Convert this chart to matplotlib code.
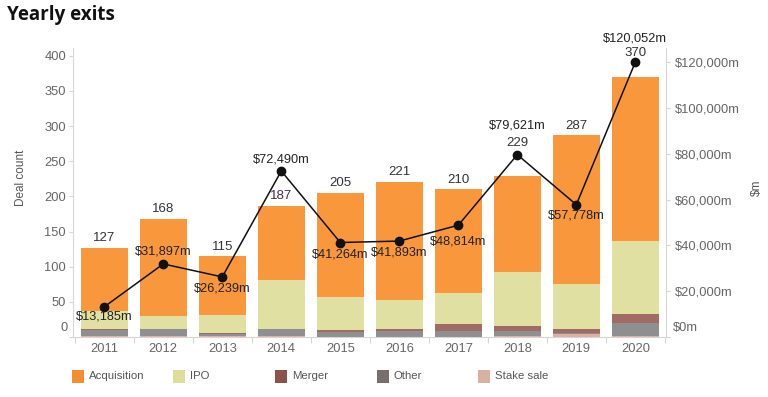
import matplotlib
matplotlib.use("Agg")
import matplotlib.pyplot as plt
from matplotlib.patches import Rectangle
import numpy as np

plt.rcParams['font.family'] = ['Liberation Sans', 'DejaVu Sans']

years = ['2011', '2012', '2013', '2014', '2015', '2016', '2017', '2018', '2019', '2020']
stake_sale = [2, 2, 1, 2, 0, 0, 0, 2, 4, 2]
other = [8, 9, 3, 9, 7, 8, 9, 6, 2, 18]
merger = [1, 1, 1, 1, 3, 4, 9, 7, 6, 13]
ipo = [26, 18, 26, 69, 47, 40, 45, 78, 64, 103]
acquisition = [90, 138, 84, 106, 148, 169, 147, 136, 211, 234]
deal_count = [127, 168, 115, 187, 205, 221, 210, 229, 287, 370]
value_m = [13185, 31897, 26239, 72490, 41264, 41893, 48814, 79621, 57778, 120052]
value_labels = ['$13,185m', '$31,897m', '$26,239m', '$72,490m', '$41,264m',
                '$41,893m', '$48,814m', '$79,621m', '$57,778m', '$120,052m']
left_ticks = [0, 50, 100, 150, 200, 250, 300, 350, 400]
right_ticks = [0, 20000, 40000, 60000, 80000, 100000, 120000]
right_tick_labels = ['$0m', '$20,000m', '$40,000m', '$60,000m', '$80,000m', '$100,000m', '$120,000m']
series_names = ['Acquisition', 'IPO', 'Merger', 'Other', 'Stake sale']

bar_colors = {'Acquisition': '#F9973D', 'IPO': '#E0E0A3', 'Merger': '#A06B64',
              'Other': '#8F8F8F', 'Stake sale': '#DDB0A0'}
legend_colors = {'Acquisition': '#F68E2F', 'IPO': '#DEDE98', 'Merger': '#8C5448',
                 'Other': '#786E6C', 'Stake sale': '#D9B1A0'}

W, H = 768, 397
fig = plt.figure(figsize=(W / 100, H / 100), dpi=100)
L, R, T, B = 73, 666, 48, 337
ax = fig.add_axes([L / W, (H - B) / H, (R - L) / W, (B - T) / H])
ax2 = ax.twinx()

x = np.arange(len(years))
grey = '#666666'
axis_col = '#D6D6D6'

bottom = np.zeros(len(years))
for name, vals in [('Stake sale', stake_sale), ('Other', other), ('Merger', merger),
                   ('IPO', ipo), ('Acquisition', acquisition)]:
    ax.bar(x, vals, bottom=bottom, width=0.8, color=bar_colors[name], linewidth=0, zorder=2)
    bottom += np.array(vals)

ax.set_xlim(-0.53, 9.52)
ax.set_ylim(0, 411)
ax2.set_ylim(0, 126200)

# line
ax2.plot(x, value_m, color='#111111', lw=1.1, marker='o', markersize=6, zorder=5)

# count labels
for i, c in enumerate(deal_count):
    if years[i] in ('2018', '2020'):
        off = 12 if years[i] == '2018' else 9
        ax2.annotate(str(c), xy=(i, value_m[i]), xytext=(0, off * 0.72), textcoords='offset points',
                     ha='center', va='center', fontsize=9.5, color='#333333', zorder=6)
    else:
        col = '#4A2A48' if years[i] == '2014' else '#333333'
        ax.annotate(str(c), xy=(i, c), xytext=(0, 2.5), textcoords='offset points',
                    ha='center', va='bottom', fontsize=9.5, color=col, zorder=6)

# value labels: (dx px, dy px) ; negative dy = below
val_offsets = [(0, -10), (0, 12), (0, -12), (0, 11), (0, -12), (0, -11), (0, -16),
               (0, 29), (0, -11), (0, 24)]
for i, (lab, v) in enumerate(zip(value_labels, value_m)):
    dx, dy = val_offsets[i]
    ax2.annotate(lab, xy=(i, v), xytext=(dx * 0.72, dy * 0.72), textcoords='offset points',
                 ha='center', va='center', fontsize=9.2, color='#222222', zorder=6)

# spines
for a in (ax, ax2):
    a.spines['top'].set_visible(False)
    for s in ('left', 'right', 'bottom'):
        a.spines[s].set_color(axis_col)
        a.spines[s].set_linewidth(0.8)
ax.spines['right'].set_visible(False)
ax2.spines['left'].set_visible(False)
ax2.spines['bottom'].set_visible(False)

# x ticks
ax.set_xticks(x)
ax.set_xticklabels(years, fontsize=9.3, color=grey)
ax.tick_params(axis='x', which='major', length=0, pad=4)
ax.set_xticks(np.arange(-0.5, 10, 1), minor=True)
ax.tick_params(axis='x', which='minor', length=4, color=axis_col, width=0.8)

# left y ticks
ax.set_yticks(left_ticks)
ax.set_yticklabels([''] + [str(t) for t in left_ticks[1:]], fontsize=9.3, color=grey)
ax.tick_params(axis='y', length=3, color=axis_col, width=0.8, pad=2)
ax.annotate('0', xy=(0, 0), xycoords='axes fraction', xytext=(-5 * 0.72, 9 * 0.72),
            textcoords='offset points', ha='right', va='center', fontsize=9.3, color=grey)

# right y ticks
ax2.set_yticks(right_ticks)
ax2.set_yticklabels([''] + right_tick_labels[1:], fontsize=9.3, color=grey)
ax2.tick_params(axis='y', length=3, color=axis_col, width=0.8, pad=3.5)
ax2.annotate(right_tick_labels[0], xy=(1, 0), xycoords='axes fraction', xytext=(6.5 * 0.72, 9 * 0.72),
             textcoords='offset points', ha='left', va='center', fontsize=9.3, color=grey)

ax.set_zorder(1)
ax2.set_zorder(2)
ax2.patch.set_visible(False)

# axis titles
fig.text(21 / W, 1 - 178 / H, 'Deal count', rotation=90, ha='center', va='center',
         fontsize=8.5, color='#555555')
fig.text(757 / W, 1 - 188 / H, '$m', rotation=90, ha='center', va='center',
         fontsize=8.5, color='#555555')

# title
fig.text(7 / W, 1 - 15 / H, 'Yearly exits', ha='left', va='center', fontsize=13.5,
         fontweight='bold', family=['Open Sans', 'DejaVu Sans'], color='#111111')

# legend
leg_x = [72, 173, 275, 377, 478]
for name, lx in zip(series_names, leg_x):
    fig.add_artist(Rectangle((lx / W, 1 - 383 / H), 12 / W, 13 / H, transform=fig.transFigure,
                             facecolor=legend_colors[name], edgecolor='none'))
    fig.text((lx + 17) / W, 1 - 376 / H, name, ha='left', va='center', fontsize=8.2, color='#555555')

fig.savefig('out.png', dpi=100, facecolor='white')
